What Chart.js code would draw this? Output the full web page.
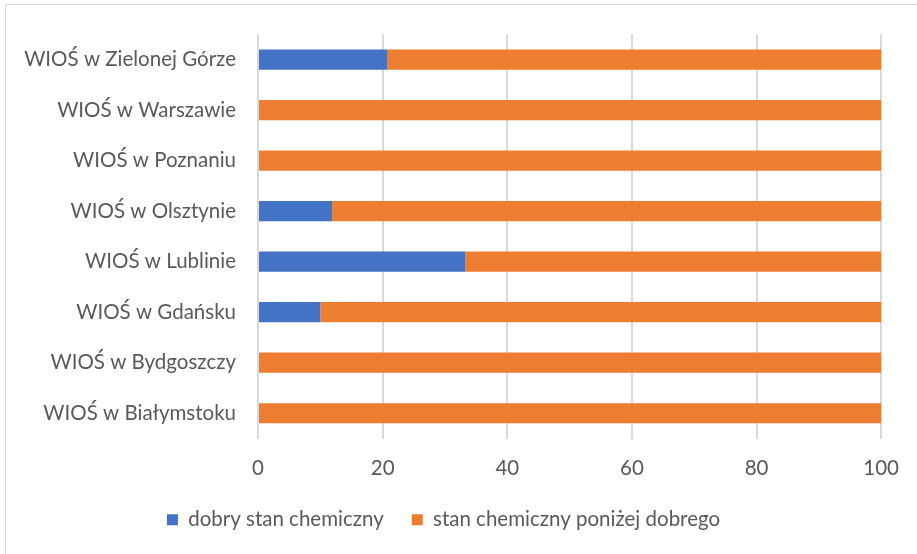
<!DOCTYPE html>
<html>
<head>
<meta charset="utf-8">
<script src="https://cdn.jsdelivr.net/npm/chart.js@4"></script>
<style>
  body { margin: 0; background: #fff; overflow: hidden; }
  #frame { position: absolute; left: 5px; top: 4px; width: 1000px; height: 700px; border: 1px solid #d9d9d9; }
  #wrap { position: absolute; left: 0; top: 0; width: 917px; height: 554px; }
</style>
</head>
<body>
<div id="frame"></div>
<div id="wrap"><canvas id="chart"></canvas></div>
<script>
const categories = [
    'WIOŚ w Zielonej Górze',
    'WIOŚ w Warszawie',
    'WIOŚ w Poznaniu',
    'WIOŚ w Olsztynie',
    'WIOŚ w Lublinie',
    'WIOŚ w Gdańsku',
    'WIOŚ w Bydgoszczy',
    'WIOŚ w Białymstoku'
];
const goodState = [20.7, 0, 0, 11.9, 33.3, 10, 0, 0];
const belowGood = [79.3, 100, 100, 88.1, 66.7, 90, 100, 100];
const xTicks = [0, 20, 40, 60, 80, 100];

const textColor = '#595959';
const fontFamily = 'Lato, "Open Sans", sans-serif';
const fontSize = 20.5;

const ctx = document.getElementById('chart').getContext('2d');
new Chart(ctx, {
    type: 'bar',
    data: {
        labels: categories,
        datasets: [{
            label: 'dobry stan chemiczny',
            data: goodState,
            backgroundColor: '#4472C4',
            barPercentage: 0.4,
            categoryPercentage: 1
        }, {
            label: 'stan chemiczny poniżej dobrego',
            data: belowGood,
            backgroundColor: '#ED7D31',
            barPercentage: 0.4,
            categoryPercentage: 1
        }]
    },
    options: {
        indexAxis: 'y',
        responsive: true,
        maintainAspectRatio: false,
        animation: false,
        layout: {
            padding: { top: 32, right: 30, bottom: 14, left: 0 }
        },
        plugins: {
            tooltip: { enabled: false },
            legend: {
                position: 'bottom',
                labels: {
                    boxWidth: 11,
                    boxHeight: 11,
                    padding: 28,
                    color: textColor,
                    font: { family: fontFamily, size: fontSize }
                }
            }
        },
        scales: {
            x: {
                stacked: true,
                min: 0,
                max: 100,
                afterBuildTicks: axis => {
                    axis.ticks = xTicks.map(v => ({ value: v }));
                },
                afterFit: axis => { axis.height = 43; },
                grid: { color: '#d9d9d9', lineWidth: 2, drawTicks: false },
                border: { display: false },
                ticks: {
                    padding: 18,
                    color: textColor,
                    font: { family: fontFamily, size: fontSize }
                }
            },
            y: {
                stacked: true,
                afterFit: axis => { axis.width = 258; },
                grid: { display: false, drawTicks: false },
                border: { display: false },
                ticks: {
                    padding: 22,
                    color: textColor,
                    font: { family: fontFamily, size: fontSize }
                }
            }
        }
    }
});
</script>
</body>
</html>
